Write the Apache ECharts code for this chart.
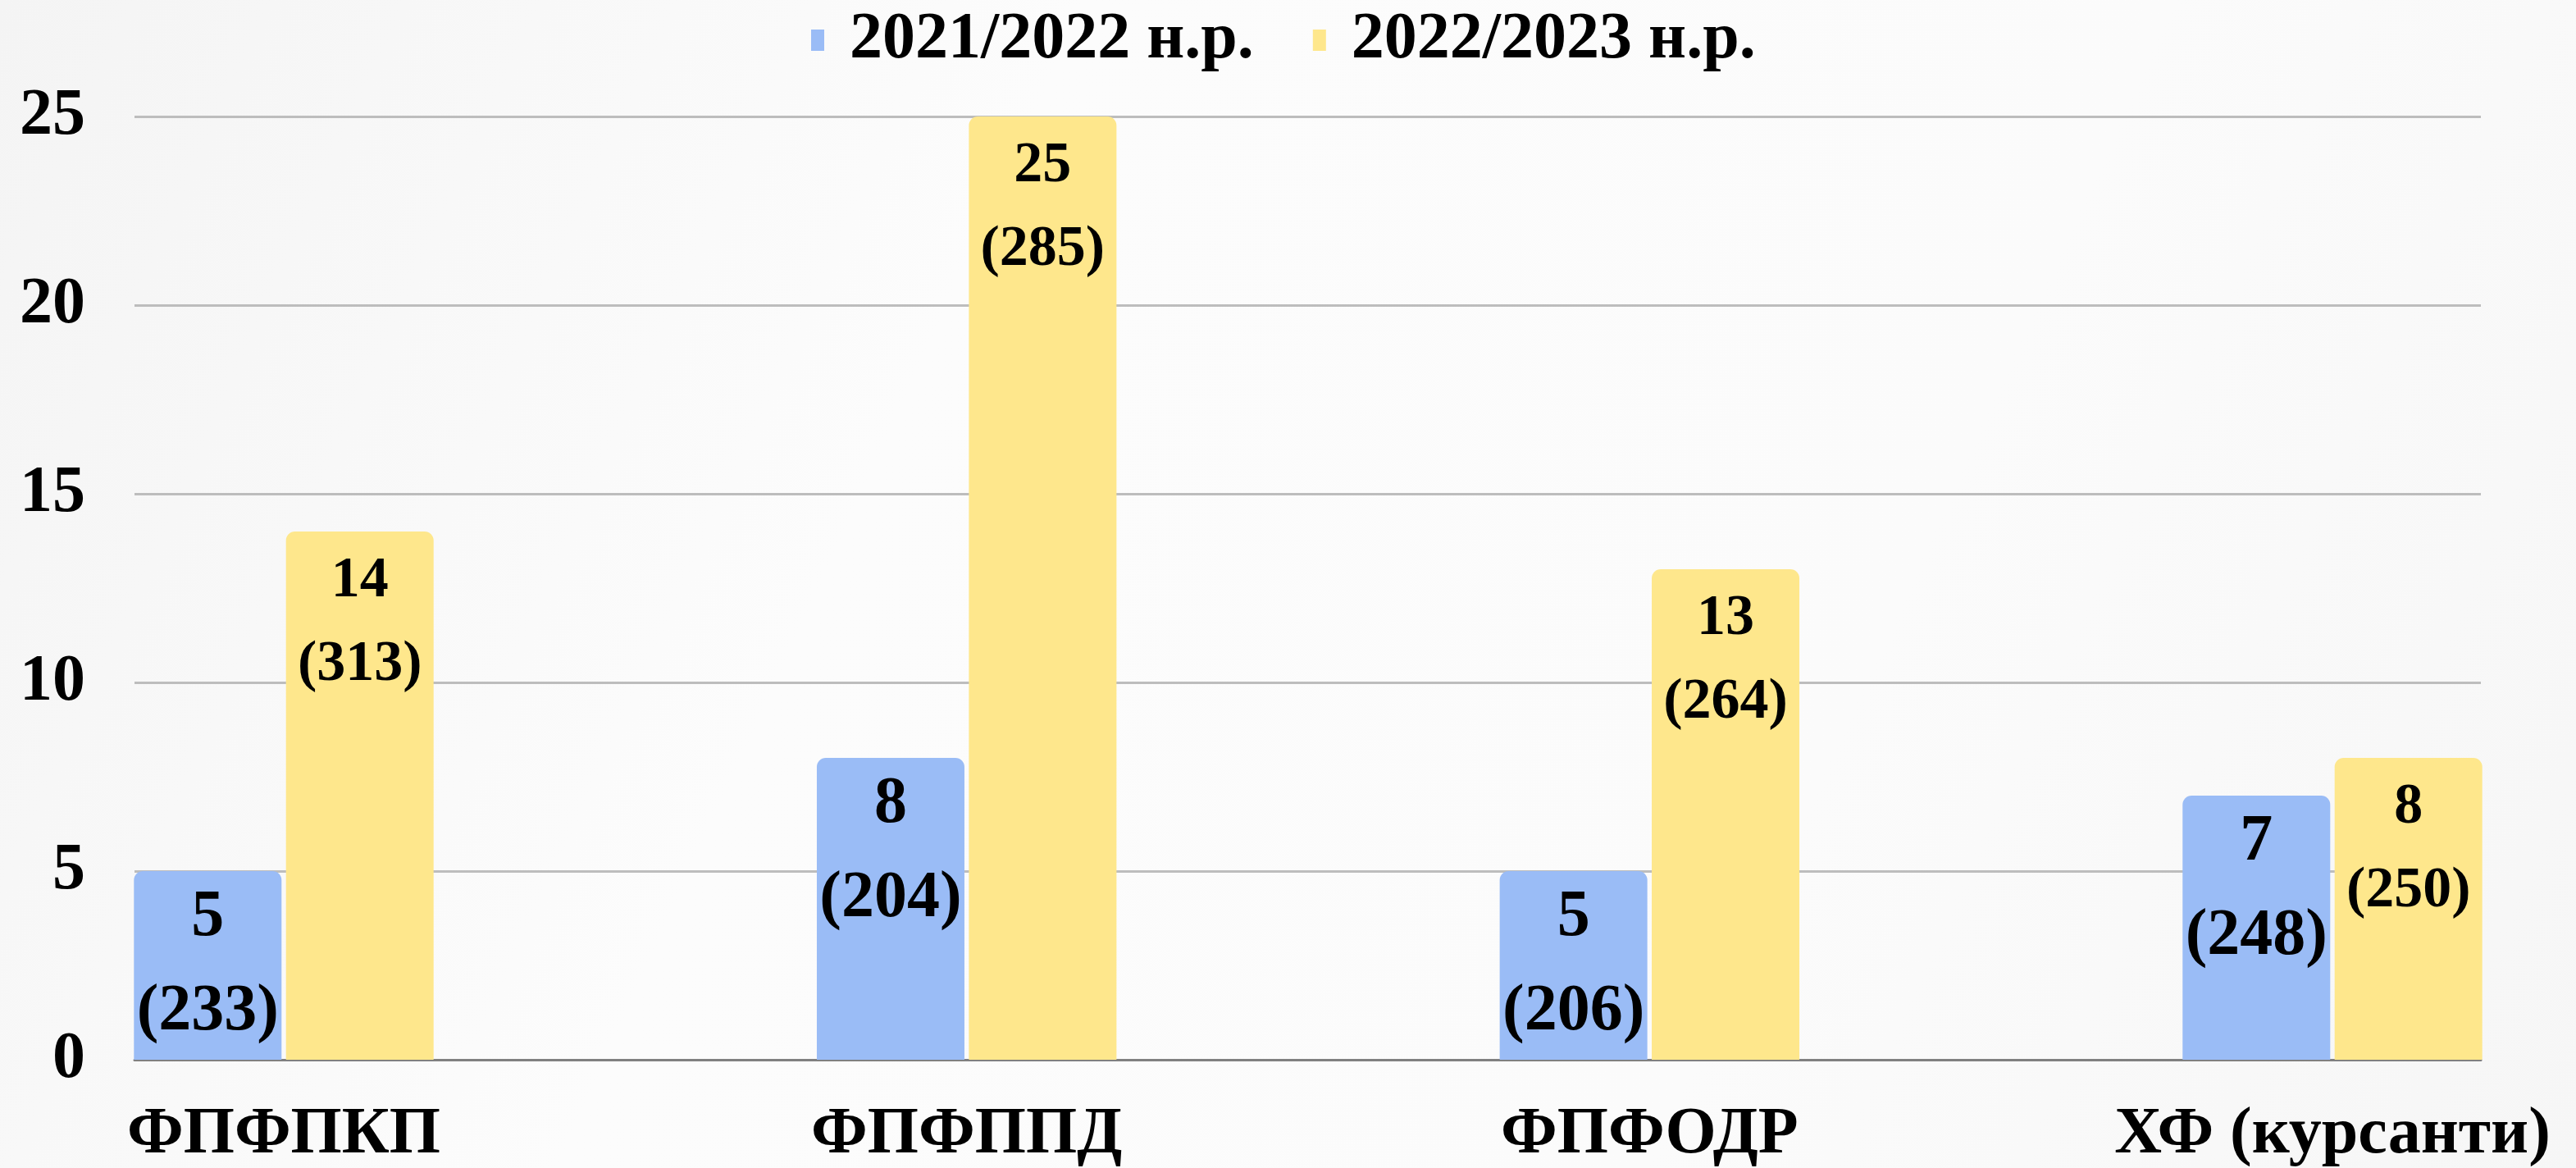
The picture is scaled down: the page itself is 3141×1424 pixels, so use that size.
<!DOCTYPE html>
<html>
<head>
<meta charset="utf-8">
<title>Chart</title>
<script src="https://cdn.jsdelivr.net/npm/echarts@6/dist/echarts.min.js"></script>
<style>
    html, body { margin: 0; padding: 0; }
    #container { width: 3141px; height: 1424px; }
</style>
</head>
<body>
<div id="container"></div>
<script type="text/javascript">
    var categories = ['ФПФПКП', 'ФПФППД', 'ФПФОДР', 'ХФ (курсанти)'];
    var seriesNames = ['2021/2022 н.р.', '2022/2023 н.р.'];
    var values2122 = [5, 8, 5, 7];
    var counts2122 = [233, 204, 206, 248];
    var values2223 = [14, 25, 13, 8];
    var counts2223 = [313, 285, 264, 250];
    var yTicks = [0, 5, 10, 15, 20, 25];

    var font = 'Liberation Serif';

    function labelData(values, counts) {
        var out = [];
        for (var i = 0; i < values.length; i++) {
            out.push({ value: values[i], count: counts[i] });
        }
        return out;
    }

    var dom = document.getElementById('container');
    var myChart = echarts.init(dom);

    var option = {
        animation: false,
        backgroundColor: {
            type: 'linear', x: 0, y: 0, x2: 1, y2: 1,
            colorStops: [
                { offset: 0, color: '#f4f4f4' },
                { offset: 0.35, color: '#fcfcfc' },
                { offset: 0.7, color: '#fbfbfb' },
                { offset: 1, color: '#f6f6f6' }
            ]
        },
        legend: {
            top: 4,
            left: 984,
            itemWidth: 16,
            itemHeight: 26,
            itemGap: 72,
            icon: 'rect',
            textStyle: {
                fontFamily: font, fontWeight: 'bold', fontSize: 80, color: '#000',
                padding: [0, 0, 0, 26]
            },
            data: seriesNames
        },
        grid: [
            { left: 164, right: 116, top: 142, bottom: 132 },
            { left: 346, right: 297, top: 142, bottom: 132 }
        ],
        xAxis: [{
            gridIndex: 0,
            type: 'value',
            min: 0,
            max: 1,
            axisLine: { show: true, lineStyle: { color: '#808080', width: 3 } },
            axisTick: { show: false },
            axisLabel: { show: false },
            splitLine: { show: false }
        }, {
            gridIndex: 1,
            type: 'category',
            boundaryGap: false,
            data: categories,
            axisLine: { show: false },
            axisTick: { show: false },
            axisLabel: {
                interval: 0,
                margin: 52,
                fontFamily: font,
                fontWeight: 'bold',
                fontSize: 80,
                color: '#000'
            }
        }],
        yAxis: [{
            gridIndex: 0,
            type: 'value',
            min: yTicks[0],
            max: yTicks[yTicks.length - 1],
            interval: 5,
            axisLine: { show: false },
            axisTick: { show: false },
            axisLabel: {
                margin: 60,
                fontFamily: font,
                fontWeight: 'bold',
                fontSize: 80,
                color: '#000'
            },
            splitLine: { lineStyle: { color: '#bdbdbd', width: 3 } }
        }, {
            gridIndex: 1,
            type: 'value',
            min: yTicks[0],
            max: yTicks[yTicks.length - 1],
            interval: 5,
            show: false
        }],
        series: [{
            name: seriesNames[0],
            type: 'bar',
            xAxisIndex: 1,
            yAxisIndex: 1,
            barWidth: 180,
            barGap: '3%',
            data: labelData(values2122, counts2122),
            itemStyle: { color: '#9abcf6', borderRadius: [11, 11, 0, 0] },
            label: {
                show: true,
                position: 'insideTop',
                distance: 0,
                fontFamily: font,
                fontWeight: 'bold',
                fontSize: 80,
                lineHeight: 115,
                color: '#000',
                formatter: function (p) { return p.data.value + '\n(' + p.data.count + ')'; }
            }
        }, {
            name: seriesNames[1],
            type: 'bar',
            xAxisIndex: 1,
            yAxisIndex: 1,
            barWidth: 180,
            barGap: '3%',
            data: labelData(values2223, counts2223),
            itemStyle: { color: '#fee78c', borderRadius: [11, 11, 0, 0] },
            label: {
                show: true,
                position: 'insideTop',
                distance: 0,
                padding: [10, 0, 0, 0],
                fontFamily: font,
                fontWeight: 'bold',
                fontSize: 70,
                lineHeight: 102,
                color: '#000',
                formatter: function (p) { return p.data.value + '\n(' + p.data.count + ')'; }
            }
        }]
    };

    myChart.setOption(option);
</script>
</body>
</html>
